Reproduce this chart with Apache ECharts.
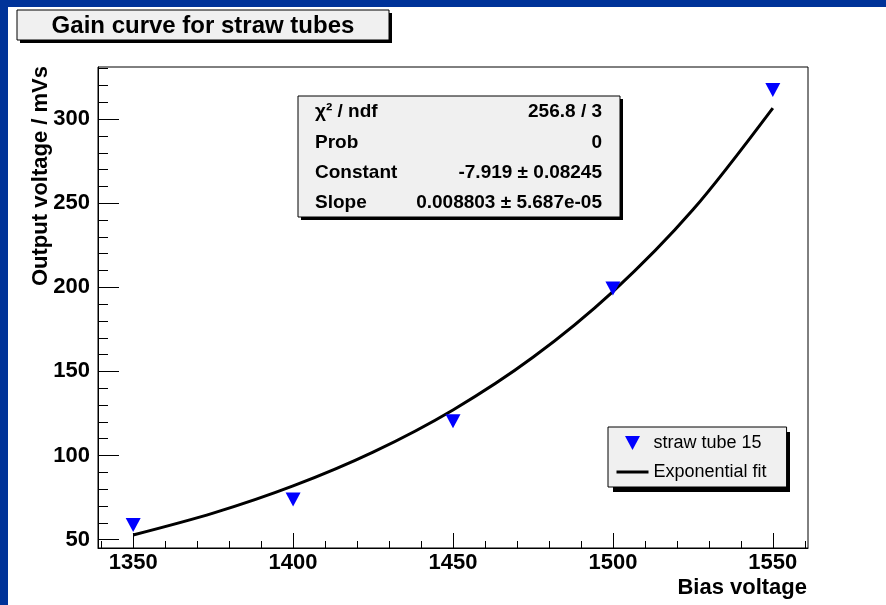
<!DOCTYPE html>
<html>
<head>
<meta charset="utf-8">
<script src="https://cdn.jsdelivr.net/npm/echarts@6/dist/echarts.min.js"></script>
<style>
  html, body { margin: 0; padding: 0; background: #fff; }
  #main { width: 886px; height: 605px; }
</style>
</head>
<body>
<div id="main"></div>
<script>
  // measured points (straw tube 15)
  var biasVoltage = [1350, 1400, 1450, 1500, 1550];
  var outputVoltage = [58.7, 73.9, 120.3, 199.3, 317.3];

  // exponential fit line
  var fitX = [1350, 1375, 1400, 1425, 1450, 1475, 1500, 1525, 1550];
  var fitY = [52.7, 65.7, 81.9, 102.0, 127.1, 158.4, 197.5, 246.1, 306.6];

  // axis ticks
  var xMajor = [1350, 1400, 1450, 1500, 1550];
  var xMinor = [1340, 1360, 1370, 1380, 1390, 1410, 1420, 1430, 1440, 1460, 1470, 1480, 1490,
                1510, 1520, 1530, 1540, 1560];
  var yMajor = [50, 100, 150, 200, 250, 300];
  var yMinor = [60, 70, 80, 90, 110, 120, 130, 140, 160, 170, 180, 190, 210, 220, 230, 240,
                260, 270, 280, 290, 310, 320, 330];

  // fit statistics box
  var statNames = ['\u03c7\u00b2 / ndf', 'Prob', 'Constant', 'Slope'];
  var statValues = ['256.8 / 3', '0', '-7.919 \u00b1 0.08245', '0.008803 \u00b1 5.687e-05'];

  var FONT = '"Liberation Sans", Arial, Helvetica, sans-serif';

  var chart = echarts.init(document.getElementById('main'));

  var statTexts = [];
  statNames.forEach(function (name, i) {
    var y = 112 + i * 30.3;
    statTexts.push({
      type: 'text', x: 315, y: y, z: 22,
      style: { text: name, font: 'bold 19px ' + FONT, fill: '#000',
               textAlign: 'left', textVerticalAlign: 'middle' }
    });
    statTexts.push({
      type: 'text', x: 602, y: y, z: 22,
      style: { text: statValues[i], font: 'bold 19px ' + FONT, fill: '#000',
               textAlign: 'right', textVerticalAlign: 'middle' }
    });
  });

  function plain(v) { return String(v); }

  chart.setOption({
    animation: false,
    backgroundColor: '#fff',
    grid: {
      left: 98, right: 78, top: 67, bottom: 57,
      show: true, borderColor: '#000', borderWidth: 1, backgroundColor: 'transparent'
    },
    xAxis: [
      {
        type: 'value', min: 1339, max: 1561,
        axisLine: { show: true, lineStyle: { color: '#000', width: 1 } },
        axisTick: { show: true, inside: true, length: 15, customValues: xMajor,
                    lineStyle: { color: '#000', width: 1 } },
        axisLabel: { customValues: xMajor, formatter: plain, margin: 4, color: '#000',
                     fontFamily: FONT, fontWeight: 'bold', fontSize: 22 },
        splitLine: { show: false }
      },
      {
        type: 'value', min: 1339, max: 1561, position: 'bottom',
        axisLine: { show: false },
        axisTick: { show: true, inside: true, length: 7, customValues: xMinor,
                    lineStyle: { color: '#000', width: 1 } },
        axisLabel: { show: false },
        splitLine: { show: false }
      }
    ],
    yAxis: [
      {
        type: 'value', min: 45, max: 331,
        axisLine: { show: true, lineStyle: { color: '#000', width: 1 } },
        axisTick: { show: true, inside: true, length: 21, customValues: yMajor,
                    lineStyle: { color: '#000', width: 1 } },
        axisLabel: { customValues: yMajor, formatter: plain, margin: 8, color: '#000',
                     fontFamily: FONT, fontWeight: 'bold', fontSize: 22 },
        splitLine: { show: false }
      },
      {
        type: 'value', min: 45, max: 331, position: 'left',
        axisLine: { show: false },
        axisTick: { show: true, inside: true, length: 10, customValues: yMinor,
                    lineStyle: { color: '#000', width: 1 } },
        axisLabel: { show: false },
        splitLine: { show: false }
      }
    ],
    legend: {
      orient: 'vertical', left: 608, top: 427, z: 10,
      padding: [7, 20, 6, 7],
      itemWidth: 32, itemHeight: 14, itemGap: 11,
      backgroundColor: '#f0f0f0', borderColor: '#000', borderWidth: 1,
      textStyle: { fontFamily: FONT, fontSize: 18, color: '#000', lineHeight: 18 },
      data: [
        { name: 'straw tube 15', icon: 'path://M0,0M32,14M8.5,0L23.5,0L16,14Z' },
        { name: 'Exponential fit', itemStyle: { opacity: 0 },
          lineStyle: { width: 3, color: '#000' } }
      ]
    },
    series: [
      {
        name: 'Exponential fit',
        type: 'line',
        data: fitX.map(function (x, i) { return [x, fitY[i]]; }),
        smooth: 0.3,
        symbol: 'none',
        lineStyle: { color: '#000', width: 3 },
        itemStyle: { color: '#000' },
        z: 2
      },
      {
        name: 'straw tube 15',
        type: 'scatter',
        data: biasVoltage.map(function (x, i) { return [x, outputVoltage[i]]; }),
        symbol: 'triangle',
        symbolRotate: 180,
        symbolSize: [15, 14],
        itemStyle: { color: '#0000ff', opacity: 1 },
        z: 3
      }
    ],
    graphic: [
      // blue frame strips
      { type: 'rect', shape: { x: 0, y: 0, width: 886, height: 7 }, style: { fill: '#003399' }, z: 50 },
      { type: 'rect', shape: { x: 0, y: 0, width: 8, height: 605 }, style: { fill: '#003399' }, z: 50 },
      // title box
      { type: 'rect', shape: { x: 20, y: 13, width: 372, height: 30 }, style: { fill: '#000' }, z: 20 },
      { type: 'rect', shape: { x: 17, y: 10, width: 372, height: 30 },
        style: { fill: '#f0f0f0', stroke: '#000', lineWidth: 1 }, z: 21 },
      { type: 'text', x: 203, y: 26, z: 22,
        style: { text: 'Gain curve for straw tubes', font: 'bold 24px ' + FONT, fill: '#000',
                 textAlign: 'center', textVerticalAlign: 'middle' } },
      // legend shadow
      { type: 'rect', shape: { x: 613, y: 432, width: 177, height: 60 }, style: { fill: '#000' }, z: 9 },
      // stats box
      { type: 'rect', shape: { x: 301, y: 99, width: 322, height: 121 }, style: { fill: '#000' }, z: 20 },
      { type: 'rect', shape: { x: 298, y: 96, width: 322, height: 121 },
        style: { fill: '#f0f0f0', stroke: '#000', lineWidth: 1 }, z: 21 }
    ].concat(statTexts).concat([
      // axis titles
      { type: 'text', x: 807, y: 588, z: 22,
        style: { text: 'Bias voltage', font: 'bold 22px ' + FONT, fill: '#000',
                 textAlign: 'right', textVerticalAlign: 'middle' } },
      { type: 'text', x: 41, y: 66, rotation: Math.PI / 2, z: 22,
        style: { text: 'Output voltage / mVs', font: 'bold 22px ' + FONT, fill: '#000',
                 textAlign: 'right', textVerticalAlign: 'middle' } }
    ])
  });
</script>
</body>
</html>
